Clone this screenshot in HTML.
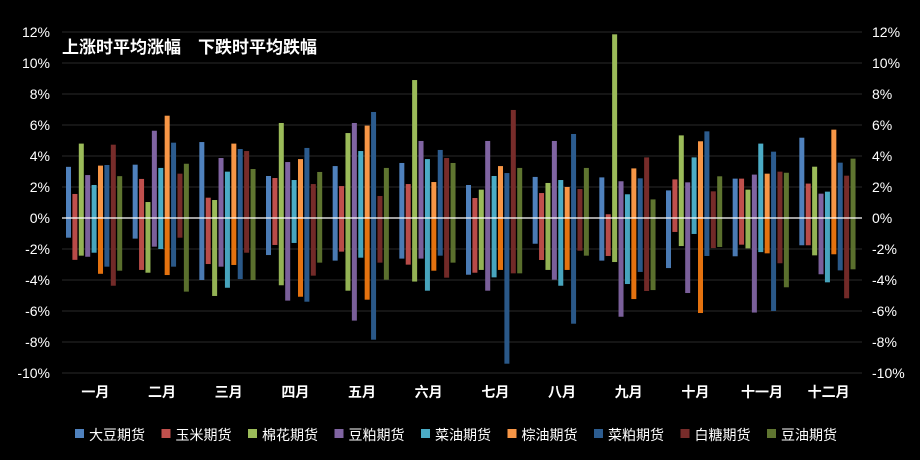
<!DOCTYPE html>
<html><head><meta charset="utf-8"><style>
body{margin:0;background:#000;}
svg{display:block;font-family:"Liberation Sans","Noto Sans CJK SC",sans-serif;}
</style></head><body>
<svg id="chart" width="920" height="460" viewBox="0 0 920 460" xmlns="http://www.w3.org/2000/svg">
<rect width="920" height="460" fill="#000"/>
<text x="62" y="53" fill="#fff" font-size="17" font-weight="bold">上涨时平均涨幅　下跌时平均跌幅</text>
<g id="grid"></g><g id="bars"></g><g id="axes"></g><g id="legend"></g>
</svg>
<script>
const months=["一月","二月","三月","四月","五月","六月","七月","八月","九月","十月","十一月","十二月"];
const seriesNames=["大豆期货","玉米期货","棉花期货","豆粕期货","菜油期货","棕油期货","菜粕期货","白糖期货","豆油期货"];
const yTicks=[12,10,8,6,4,2,0,-2,-4,-6,-8,-10];
const upDadou=[3.3,3.44,4.9,2.71,3.35,3.55,2.13,2.65,2.62,1.78,2.54,5.18];
const upYumi=[1.55,2.52,1.31,2.58,2.06,2.19,1.29,1.61,0.24,2.49,2.54,2.22];
const upMianhua=[4.8,1.03,1.16,6.13,5.48,8.9,1.83,2.26,11.85,5.33,1.83,3.31];
const upDoupo=[2.77,5.63,3.87,3.61,6.13,4.97,4.97,4.97,2.37,2.3,2.8,1.57];
const upCaiyou=[2.13,3.23,2.99,2.45,4.32,3.8,2.71,2.45,1.53,3.91,4.8,1.7];
const upZongyou=[3.38,6.6,4.8,3.8,5.96,2.32,3.35,2.0,3.2,4.95,2.86,5.7];
const upCaipo=[3.42,4.86,4.45,4.52,6.84,4.39,2.9,5.42,2.56,5.59,4.28,3.57];
const upBaitang=[4.73,2.86,4.32,2.19,1.42,3.87,6.97,1.87,3.91,1.72,2.99,2.73];
const upDouyou=[2.7,3.5,3.16,2.97,3.23,3.55,3.23,3.23,1.2,2.69,2.92,3.83];
const downDadou=[-1.27,-1.33,-4.0,-2.39,-2.75,-2.62,-3.66,-1.66,-2.75,-3.23,-2.47,-1.76];
const downYumi=[-2.7,-3.35,-2.97,-1.74,-2.17,-3.01,-3.53,-2.71,-2.45,-0.9,-1.72,-1.76];
const downMianhua=[-2.43,-3.53,-5.03,-4.34,-4.69,-4.1,-3.35,-3.35,-2.84,-1.81,-1.96,-2.41];
const downDoupo=[-2.5,-1.85,-3.14,-5.33,-6.62,-2.62,-4.69,-3.98,-6.37,-4.84,-6.1,-3.63];
const downCaiyou=[-2.24,-2.0,-4.5,-1.61,-2.56,-4.69,-3.83,-4.37,-4.26,-1.03,-2.2,-4.15];
const downZongyou=[-3.6,-3.68,-3.03,-5.08,-5.27,-3.4,-3.35,-3.35,-5.23,-6.13,-2.28,-2.34];
const downCaipo=[-3.14,-3.14,-3.94,-5.4,-7.85,-2.43,-9.4,-6.82,-3.48,-2.45,-6.0,-3.38];
const downBaitang=[-4.37,-1.27,-2.24,-3.72,-2.88,-3.85,-3.57,-2.11,-4.71,-1.94,-2.92,-5.18];
const downDouyou=[-3.4,-4.75,-4.0,-2.88,-3.98,-2.88,-3.57,-2.43,-4.65,-1.87,-4.47,-3.31];

const ups=[upDadou,upYumi,upMianhua,upDoupo,upCaiyou,upZongyou,upCaipo,upBaitang,upDouyou];
const downs=[downDadou,downYumi,downMianhua,downDoupo,downCaiyou,downZongyou,downCaipo,downBaitang,downDouyou];
const colors=["#4F81BD","#C0504D","#9BBB59","#8064A2","#4BACC6","#F79646","#2C5C8F","#772C2A","#5F7530"];
const colorsDn=["#4A7AB3","#B84B48","#93B254","#7A5F9A","#47A4BD","#E4720F","#2A5888","#722A28","#5A6F2D"];
const NS="http://www.w3.org/2000/svg";
const plotL=62,plotR=862,zeroY=218,pxPer=15.5;
const y=v=>zeroY-v*pxPer;
const groupW=(plotR-plotL)/months.length;
const x=(m,s)=>plotL+m*groupW+4+s*6.4;
function mk(tag,attrs,parent){const e=document.createElementNS(NS,tag);for(const k in attrs)e.setAttribute(k,attrs[k]);parent.appendChild(e);return e;}
const grid=document.getElementById('grid'),bars=document.getElementById('bars'),axes=document.getElementById('axes'),legend=document.getElementById('legend');
yTicks.forEach(t=>{
  if(t!==0){const l=mk('line',{x1:plotL,x2:plotR,y1:y(t),y2:y(t),stroke:'#2a2a2a','stroke-width':1},grid);
  
  }
  const a=mk('text',{x:50,y:y(t)+5,fill:'#fff','font-size':14,'text-anchor':'end'},axes);a.textContent=t+'%';
  
  
  const b=mk('text',{x:872,y:y(t)+5,fill:'#fff','font-size':14},axes);b.textContent=t+'%';
  
  
});
months.forEach((mn,m)=>{
  for(let s=0;s<seriesNames.length;s++){
    const u=ups[s][m],d=downs[s][m];
    const r1=mk('rect',{x:x(m,s),y:y(u),width:5,height:Math.max(0,y(0)-y(u)),fill:colors[s]},bars);
    
    
    const r2=mk('rect',{x:x(m,s),y:y(0),width:5,height:Math.max(0,y(d)-y(0)),fill:colorsDn[s]},bars);
    
    
  }
  const t=mk('text',{x:plotL+(m+0.5)*groupW,y:397,fill:'#fff','font-size':14,'font-weight':'bold','text-anchor':'middle'},axes);t.textContent=mn;
  
  
});
const zl=mk('line',{x1:plotL,x2:plotR,y1:zeroY,y2:zeroY,stroke:'#fff','stroke-width':1.2},axes);


let lx=75;
seriesNames.forEach((n,s)=>{
  const g=mk('g',{},legend);
  
  
  mk('rect',{x:lx,y:429,width:9,height:9,fill:colors[s]},g);
  const t=mk('text',{x:lx+14,y:440,fill:'#fff','font-size':14},g);t.textContent=n;
  lx+=86.5;
});
</script>
</body></html>
